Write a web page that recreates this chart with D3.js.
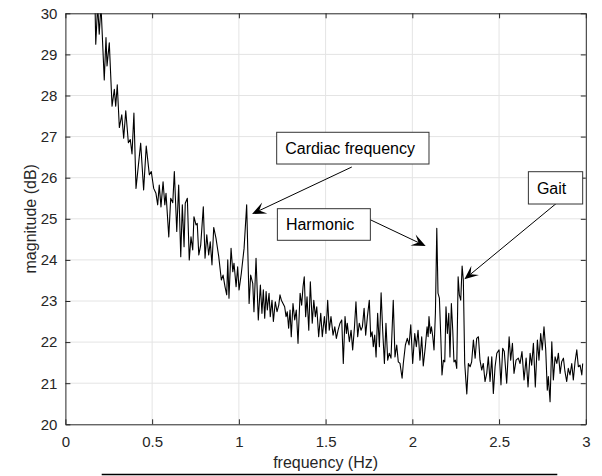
<!DOCTYPE html>
<html>
<head>
<meta charset="utf-8">
<script src="https://cdn.jsdelivr.net/npm/d3@7"></script>
<style>
  body { margin: 0; background: #fff; }
  text { font-family: "Liberation Sans", Arial, Helvetica, sans-serif; }
  .grid line { stroke: #e4e4e4; stroke-width: 1; }
  .axis path, .axis line { stroke: #262626; }
  .axis text { fill: #262626; font-size: 15px; }
</style>
</head>
<body>
<div id="graph"></div>
<script>
// spectrum (Hz, dB)
var freq = [
  0.169, 0.175, 0.186, 0.195, 0.205, 0.224, 0.234, 0.240, 0.253, 0.269,
  0.282, 0.290, 0.299, 0.311, 0.325, 0.336, 0.348, 0.363, 0.374, 0.384,
  0.395, 0.407, 0.434, 0.451, 0.466, 0.484, 0.495, 0.509, 0.522, 0.532,
  0.541, 0.551, 0.563, 0.573, 0.580, 0.596, 0.607, 0.619, 0.628, 0.642,
  0.653, 0.665, 0.674, 0.684, 0.691, 0.703, 0.714, 0.724, 0.734, 0.741,
  0.753, 0.760, 0.769, 0.780, 0.795, 0.805, 0.815, 0.826, 0.835, 0.845,
  0.855, 0.868, 0.884, 0.899, 0.909, 0.920, 0.930, 0.936, 0.943, 0.955,
  0.965, 0.972, 0.984, 0.993, 1.001, 1.014, 1.030, 1.045, 1.059, 1.068,
  1.080, 1.087, 1.099, 1.112, 1.124, 1.133, 1.141, 1.149, 1.157, 1.164,
  1.174, 1.181, 1.191, 1.199, 1.210, 1.220, 1.230, 1.237, 1.245, 1.264,
  1.272, 1.279, 1.287, 1.295, 1.302, 1.312, 1.322, 1.331, 1.341, 1.353,
  1.362, 1.370, 1.377, 1.385, 1.393, 1.403, 1.412, 1.423, 1.432, 1.441,
  1.449, 1.460, 1.472, 1.481, 1.493, 1.502, 1.512, 1.521, 1.531, 1.543,
  1.553, 1.562, 1.572, 1.583, 1.593, 1.602, 1.612, 1.620, 1.625, 1.637,
  1.647, 1.656, 1.666, 1.675, 1.685, 1.694, 1.704, 1.712, 1.722, 1.731,
  1.741, 1.752, 1.760, 1.768, 1.775, 1.783, 1.791, 1.800, 1.810, 1.820,
  1.829, 1.839, 1.848, 1.858, 1.867, 1.877, 1.890, 1.900, 1.910, 1.919,
  1.929, 1.941, 1.948, 1.960, 1.971, 1.981, 1.991, 2.002, 2.014, 2.023,
  2.033, 2.044, 2.054, 2.063, 2.075, 2.085, 2.091, 2.096, 2.104, 2.110,
  2.118, 2.125, 2.133, 2.141, 2.148, 2.156, 2.164, 2.171, 2.179, 2.187,
  2.194, 2.202, 2.210, 2.217, 2.225, 2.233, 2.240, 2.248, 2.256, 2.264,
  2.271, 2.279, 2.287, 2.294, 2.302, 2.314, 2.323, 2.333, 2.342, 2.352,
  2.362, 2.371, 2.381, 2.390, 2.400, 2.409, 2.419, 2.429, 2.438, 2.448,
  2.458, 2.467, 2.477, 2.487, 2.500, 2.511, 2.521, 2.530, 2.544, 2.558,
  2.567, 2.577, 2.586, 2.598, 2.611, 2.621, 2.632, 2.644, 2.656, 2.667,
  2.679, 2.688, 2.698, 2.709, 2.721, 2.730, 2.740, 2.749, 2.759, 2.769,
  2.778, 2.784, 2.794, 2.804, 2.813, 2.823, 2.833, 2.842, 2.852, 2.861,
  2.871, 2.880, 2.890, 2.899, 2.909, 2.919, 2.928, 2.938, 2.948, 2.957,
  2.967, 2.977, 2.982
];

var mag = [
  30.60, 29.25, 30.20, 29.49, 30.20, 28.38, 29.41, 28.72, 29.28, 27.74,
  28.15, 27.74, 28.26, 27.22, 27.53, 26.96, 27.63, 26.85, 26.93, 26.58,
  27.57, 25.74, 26.84, 25.70, 26.77, 26.07, 26.15, 25.74, 25.62, 25.34,
  25.82, 25.29, 25.90, 25.34, 25.62, 24.56, 25.50, 25.39, 26.15, 24.69,
  25.82, 24.08, 25.34, 24.32, 25.38, 25.50, 24.00, 24.56, 24.24, 25.05,
  24.85, 24.89, 24.12, 24.36, 25.29, 24.04, 24.61, 24.12, 24.44, 23.88,
  24.79, 24.53, 24.08, 23.51, 23.63, 23.35, 23.15, 24.00, 23.07, 24.28,
  23.71, 23.92, 23.35, 23.83, 23.27, 23.67, 24.28, 25.34, 22.94, 23.63,
  23.43, 22.74, 24.04, 22.54, 23.39, 22.70, 23.27, 22.58, 23.23, 22.78,
  23.19, 22.62, 23.02, 22.50, 22.98, 22.74, 22.90, 23.15, 23.02, 22.86,
  22.62, 22.74, 22.34, 22.78, 22.13, 22.94, 22.54, 22.78, 21.97, 23.19,
  22.90, 23.35, 23.59, 22.62, 23.10, 22.29, 23.47, 22.46, 23.02, 22.62,
  22.86, 22.13, 22.70, 22.13, 22.62, 22.21, 23.02, 22.29, 22.62, 22.17,
  22.37, 22.09, 22.29, 22.46, 22.54, 21.48, 22.62, 22.21, 22.46, 22.01,
  22.29, 21.81, 22.34, 22.98, 22.13, 22.46, 22.29, 22.37, 22.82, 22.17,
  22.62, 23.02, 22.13, 22.25, 21.89, 22.17, 21.64, 22.70, 21.89, 23.20,
  22.29, 21.48, 22.46, 21.56, 21.73, 21.61, 23.02, 21.64, 21.93, 21.52,
  21.48, 21.12, 21.48, 21.93, 22.09, 21.93, 22.42, 21.48, 22.21, 21.89,
  22.29, 21.56, 22.13, 21.42, 21.89, 22.37, 22.13, 22.62, 22.21, 22.37,
  22.13, 21.81, 22.70, 24.77, 23.19, 23.07, 22.13, 21.20, 21.56, 21.52,
  22.86, 22.21, 22.70, 21.64, 22.94, 22.29, 21.52, 21.56, 21.36, 23.59,
  23.15, 23.02, 23.85, 23.51, 21.48, 20.74, 21.48, 21.40, 21.52, 22.05,
  21.61, 22.09, 22.13, 21.56, 21.32, 21.48, 21.04, 21.24, 21.64, 21.04,
  21.64, 20.75, 21.40, 21.73, 21.81, 20.96, 21.85, 21.77, 21.00, 22.13,
  21.56, 21.97, 21.24, 21.56, 21.61, 21.48, 21.77, 21.08, 21.61, 20.91,
  21.73, 21.44, 21.97, 20.91, 22.05, 21.56, 22.21, 21.81, 22.37, 21.81,
  20.83, 21.16, 20.55, 22.01, 21.08, 21.64, 21.48, 21.73, 21.24, 21.52,
  21.61, 21.28, 21.04, 21.36, 21.20, 21.48, 21.08, 21.52, 21.81, 21.40,
  21.44, 21.20, 21.48
];

var xTicks = [ 0, 0.5, 1, 1.5, 2, 2.5, 3 ];
var yTicks = [ 20, 21, 22, 23, 24, 25, 26, 27, 28, 29, 30 ];

// text boxes in data units: [x0, yTop, x1, yBottom], arrow from -> to
var notes = [
  { text: 'Cardiac frequency', box: [ 1.218, 27.105, 2.096, 26.333 ], from: [ 1.651, 26.26 ], to: [ 1.076, 25.117 ] },
  { text: 'Harmonic', box: [ 1.222, 25.246, 1.758, 24.477 ], from: [ 1.745, 25.002 ], to: [ 2.077, 24.338 ] },
  { text: 'Gait', box: [ 2.669, 26.146, 2.982, 25.360 ], from: [ 2.842, 25.416 ], to: [ 2.300, 23.528 ] }
];

var width = 602;
var height = 476;
var plotLeft = 65.4, plotRight = 585.8, plotTop = 13.3, plotBottom = 424.3;

var svg = d3.select( '#graph' ).append( 'svg' )
    .attr( 'width', width )
    .attr( 'height', height );

var x = d3.scaleLinear().domain( [ 0, 3 ] ).range( [ plotLeft, plotRight ] );
var y = d3.scaleLinear().domain( [ 20, 30 ] ).range( [ plotBottom, plotTop ] );

// grid
var grid = svg.append( 'g' ).attr( 'class', 'grid' );
grid.selectAll( 'line.v' )
    .data( xTicks.slice( 1, -1 ) )
    .enter().append( 'line' )
    .attr( 'x1', function( d ) { return x( d ); })
    .attr( 'x2', function( d ) { return x( d ); })
    .attr( 'y1', plotTop )
    .attr( 'y2', plotBottom );
grid.selectAll( 'line.h' )
    .data( yTicks.slice( 1, -1 ) )
    .enter().append( 'line' )
    .attr( 'y1', function( d ) { return y( d ); })
    .attr( 'y2', function( d ) { return y( d ); })
    .attr( 'x1', plotLeft )
    .attr( 'x2', plotRight );

// trace
svg.append( 'clipPath' ).attr( 'id', 'plot' )
    .append( 'rect' )
    .attr( 'x', plotLeft ).attr( 'y', plotTop )
    .attr( 'width', plotRight - plotLeft ).attr( 'height', plotBottom - plotTop );

var line = d3.line()
    .x( function( d, i ) { return x( freq[ i ] ); })
    .y( function( d ) { return y( d ); });

svg.append( 'path' )
    .datum( mag )
    .attr( 'clip-path', 'url(#plot)' )
    .attr( 'fill', 'none' )
    .attr( 'stroke', '#000' )
    .attr( 'stroke-width', 1.1 )
    .attr( 'stroke-linejoin', 'round' )
    .attr( 'd', line );

// axes, ticks pointing inwards
svg.append( 'g' ).attr( 'class', 'axis' )
    .attr( 'transform', 'translate(0,' + plotBottom + ')' )
    .call( d3.axisBottom( x ).tickValues( xTicks ).tickFormat( d3.format( '' ) )
        .tickSizeInner( -5 ).tickSizeOuter( 0 ).tickPadding( 12 ) );
svg.append( 'g' ).attr( 'class', 'axis' )
    .attr( 'transform', 'translate(0,' + plotTop + ')' )
    .call( d3.axisTop( x ).tickValues( xTicks ).tickFormat( '' )
        .tickSizeInner( -5 ).tickSizeOuter( 0 ) );
svg.append( 'g' ).attr( 'class', 'axis' )
    .attr( 'transform', 'translate(' + plotLeft + ',0)' )
    .call( d3.axisLeft( y ).tickValues( yTicks )
        .tickSizeInner( -5 ).tickSizeOuter( 0 ).tickPadding( 8 ) );
svg.append( 'g' ).attr( 'class', 'axis' )
    .attr( 'transform', 'translate(' + plotRight + ',0)' )
    .call( d3.axisRight( y ).tickValues( yTicks ).tickFormat( '' )
        .tickSizeInner( -5 ).tickSizeOuter( 0 ) );
svg.selectAll( '.axis text' ).attr( 'font-family', null );

// axis labels
svg.append( 'text' )
    .attr( 'x', ( plotLeft + plotRight ) / 2 )
    .attr( 'y', 468 )
    .attr( 'text-anchor', 'middle' )
    .attr( 'font-size', 16 )
    .attr( 'fill', '#262626' )
    .text( 'frequency (Hz)' );

svg.append( 'text' )
    .attr( 'transform', 'translate(36,' + ( plotTop + plotBottom ) / 2 + ') rotate(-90)' )
    .attr( 'text-anchor', 'middle' )
    .attr( 'font-size', 16 )
    .attr( 'fill', '#262626' )
    .text( 'magnitude (dB)' );

// edge of a box sitting below the figure
svg.append( 'line' )
    .attr( 'x1', 101.7 ).attr( 'x2', 557.3 )
    .attr( 'y1', 474.5 ).attr( 'y2', 474.5 )
    .attr( 'stroke', '#000' )
    .attr( 'stroke-width', 1.5 );

// annotations
var note = svg.append( 'g' ).selectAll( 'g' )
    .data( notes )
    .enter().append( 'g' );

note.append( 'line' )
    .attr( 'x1', function( d ) { return x( d.from[ 0 ] ); })
    .attr( 'y1', function( d ) { return y( d.from[ 1 ] ); })
    .attr( 'x2', function( d ) { return headBase( d )[ 0 ]; })
    .attr( 'y2', function( d ) { return headBase( d )[ 1 ]; })
    .attr( 'stroke', '#000' )
    .attr( 'stroke-width', 1 );

note.append( 'path' )
    .attr( 'fill', '#000' )
    .attr( 'd', function( d ) { return arrowHead( d ); });

note.append( 'rect' )
    .attr( 'x', function( d ) { return x( d.box[ 0 ] ); })
    .attr( 'y', function( d ) { return y( d.box[ 1 ] ); })
    .attr( 'width', function( d ) { return x( d.box[ 2 ] ) - x( d.box[ 0 ] ); })
    .attr( 'height', function( d ) { return y( d.box[ 3 ] ) - y( d.box[ 1 ] ); })
    .attr( 'fill', '#fff' )
    .attr( 'stroke', '#333' )
    .attr( 'stroke-width', 1 );

note.append( 'text' )
    .attr( 'x', function( d ) { return x( d.box[ 0 ] ) + 8.5; })
    .attr( 'y', function( d ) { return ( y( d.box[ 1 ] ) + y( d.box[ 3 ] ) ) / 2 + 5.8; })
    .attr( 'font-size', 16 )
    .attr( 'fill', '#000' )
    .text( function( d ) { return d.text; });

function headGeom( d ) {
    var x1 = x( d.from[ 0 ] ), y1 = y( d.from[ 1 ] );
    var x2 = x( d.to[ 0 ] ), y2 = y( d.to[ 1 ] );
    var a = Math.atan2( y2 - y1, x2 - x1 );
    return { tx: x2, ty: y2, ux: Math.cos( a ), uy: Math.sin( a ) };
}

function headBase( d ) {
    var g = headGeom( d );
    return [ g.tx - g.ux * 8, g.ty - g.uy * 8 ];
}

function arrowHead( d ) {
    var g = headGeom( d );
    var len = 14, half = 6, notch = 8;
    var px = -g.uy, py = g.ux;
    var p = d3.path();
    p.moveTo( g.tx, g.ty );
    p.lineTo( g.tx - g.ux * len + px * half, g.ty - g.uy * len + py * half );
    p.lineTo( g.tx - g.ux * notch, g.ty - g.uy * notch );
    p.lineTo( g.tx - g.ux * len - px * half, g.ty - g.uy * len - py * half );
    p.closePath();
    return p.toString();
}
</script>
</body>
</html>
